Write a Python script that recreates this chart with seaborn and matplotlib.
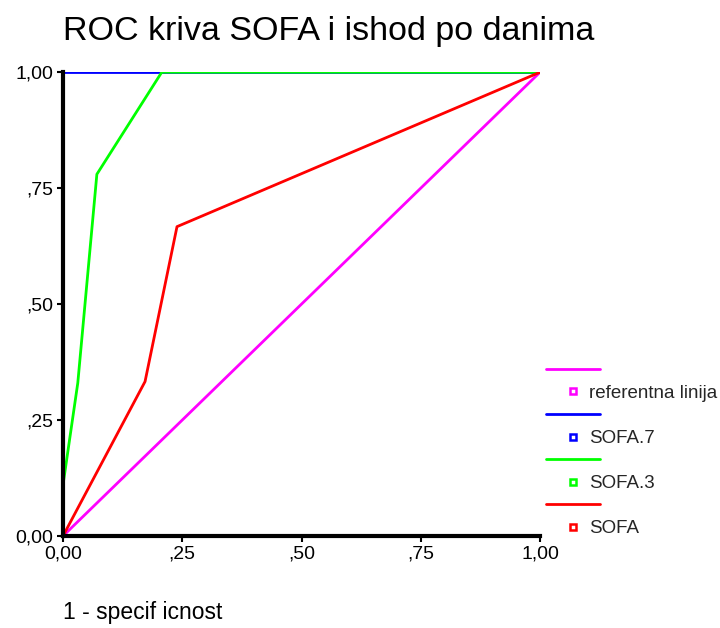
import matplotlib
matplotlib.use("Agg")
import matplotlib.pyplot as plt
from matplotlib.lines import Line2D
import seaborn as sns
import pandas as pd

sns.set_theme(style="white")
plt.rcParams["font.family"] = ["Liberation Sans", "DejaVu Sans"]

# ROC curve points (1 - specificity, sensitivity)
ref_x = [0.0, 1.0]
ref_y = [0.0, 1.0]
sofa7_x = [0.0, 0.0, 1.0]
sofa7_y = [0.0, 1.0, 1.0]
sofa3_x = [0.0, 0.0, 0.031, 0.071, 0.207, 1.0]
sofa3_y = [0.0, 0.11, 0.33, 0.78, 1.0, 1.0]
sofa_x = [0.0, 0.172, 0.239, 1.0]
sofa_y = [0.0, 0.333, 0.667, 1.0]

series_names = ["referentna linija", "SOFA.7", "SOFA.3", "SOFA"]
series_colors = ["#ff00ff", "#0000ff", "#00ff00", "#ff0000"]
tick_vals = [0.0, 0.25, 0.5, 0.75, 1.0]
tick_labels = ["0,00", ",25", ",50", ",75", "1,00"]

frames = []
for name, xs, ys in zip(series_names,
                        [ref_x, sofa7_x, sofa3_x, sofa_x],
                        [ref_y, sofa7_y, sofa3_y, sofa_y]):
    frames.append(pd.DataFrame({"x": xs, "y": ys, "serie": name}))
df = pd.concat(frames, ignore_index=True)

fig = plt.figure(figsize=(7.2, 6.28), dpi=100)
ax = fig.add_axes([0.0875, 0.1465, 0.6625, 0.7385])

sns.lineplot(data=df, x="x", y="y", hue="serie", hue_order=series_names,
             palette=dict(zip(series_names, series_colors)), sort=False,
             estimator=None, units="serie", linewidth=2, ax=ax, legend=False)

ax.set_xlim(0, 1)
ax.set_ylim(0, 1)
ax.set_xticks(tick_vals)
ax.set_xticklabels(tick_labels)
ax.set_yticks(tick_vals)
ax.set_yticklabels(tick_labels)
ax.tick_params(axis="both", direction="out", length=4, width=1.5,
               labelsize=14, colors="black", bottom=True, left=True, pad=3)
for side in ["top", "right"]:
    ax.spines[side].set_visible(False)
for side in ["left", "bottom"]:
    ax.spines[side].set_color("black")
    ax.spines[side].set_linewidth(3)
ax.set_xlabel("")
ax.set_ylabel("")

fig.text(0.0875, 0.950, "ROC kriva SOFA i ishod po danima", fontsize=24.5,
         ha="left", va="center", color="black")
fig.text(0.0875, 0.025, "1 - specif icnost", fontsize=16.5,
         ha="left", va="center", color="black")

handles, labels = [], []
for name, col in zip(series_names, series_colors):
    handles.append(Line2D([], [], color=col, linewidth=2))
    labels.append("")
    handles.append(Line2D([], [], color=col, linestyle="none", marker="s",
                          markersize=5, markerfacecolor="white",
                          markeredgewidth=1.8))
    labels.append(name)
leg = fig.legend(handles, labels, loc="upper left",
                 bbox_to_anchor=(0.759, 0.423), frameon=False, fontsize=13.5,
                 handlelength=2.85, handletextpad=-0.6, labelspacing=0.29,
                 borderaxespad=0, borderpad=0)

fig.savefig("out.png", dpi=100, facecolor="white")
